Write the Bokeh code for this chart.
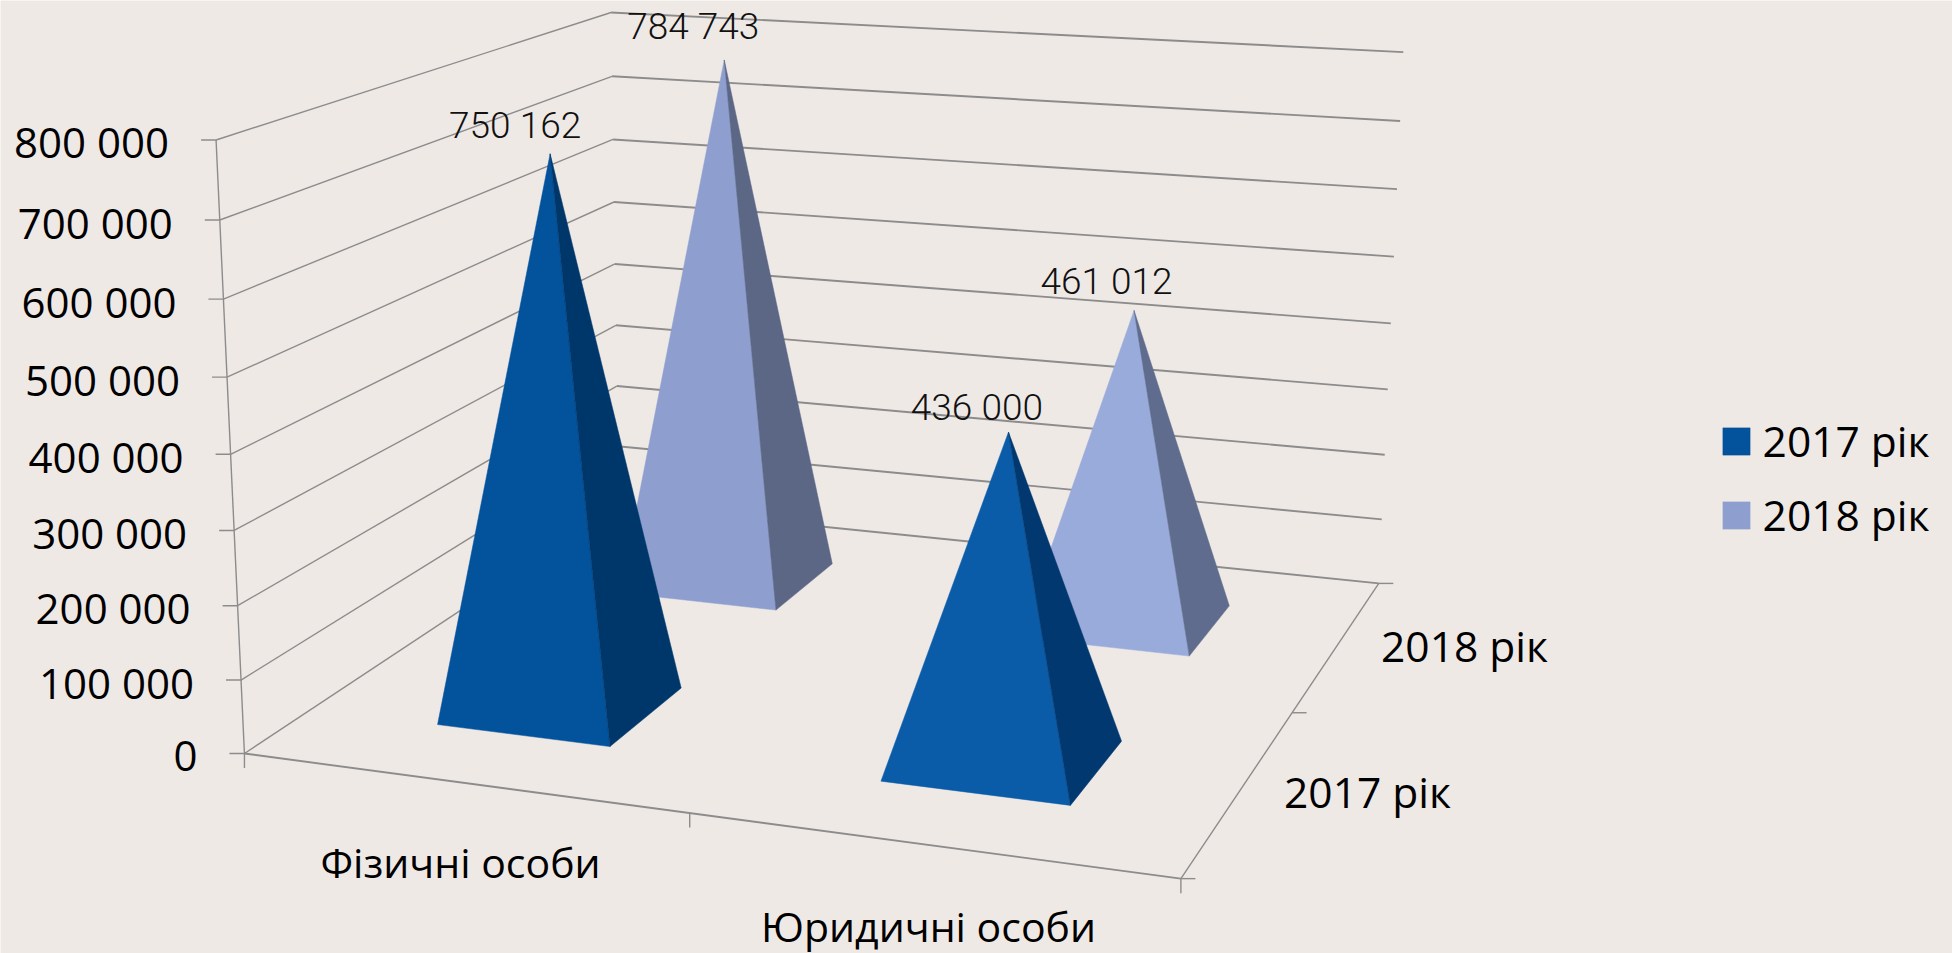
import numpy as np
from bokeh.plotting import figure
from bokeh.models import ColumnDataSource, Legend, LegendItem, Range1d
from bokeh.core.properties import value
from bokeh.embed import file_html
from bokeh.resources import INLINE

# ---- data -------------------------------------------------------------
categories = ["Фізичні особи", "Юридичні особи"]
series_names = ["2017 рік", "2018 рік"]
values_2017 = [750162, 436000]
values_2018 = [784743, 461012]
axis_ticks = [0, 100000, 200000, 300000, 400000, 500000, 600000, 700000, 800000]
axis_max = 800000

# ---- style ------------------------------------------------------------
BG = "#EFE9E6"
LINE = "#8C8C8C"
FRONT = [["#03529C", "#0A5CA8"], ["#8E9FCF", "#98ABDA"]]
SIDE = [["#00376B", "#00386F"], ["#5C6786", "#5F6C8D"]]
AXIS_FONT = "Open Sans"
LABEL_FONT = "Roboto Light, Roboto"
W, H = 1952, 953

# ---- 3D box -> page pixels: camera fitted on the box's corners ---------
CAMERA_ANCHORS = [
    ((0, 0, 0), (244, 753.3)), ((1, 0, 0), (1179.6, 878.3)), ((1, 1, 0), (1378, 583.3)),
    ((0, 1, 0), (618, 505)), ((0, 0, 1), (215.8, 139.3)), ((0, 1, 1), (609.6, 12)),
    ((1, 1, 1), (1403, 51.7)), ((.5, 0, 0), (688.9, 813.3)), ((1, .5, 0), (1292.5, 711)),
    ((0, 0, .625), (226.8, 376.3)), ((0, 1, .625), (614.2, 201.7)), ((1, 1, .625), (1393.4, 256.3)),
]
rows = []
for (X, Y, Z), (x, y) in CAMERA_ANCHORS:
    rows.append([X, Y, Z, 1, 0, 0, 0, 0, -x * X, -x * Y, -x * Z, -x])
    rows.append([0, 0, 0, 0, X, Y, Z, 1, -y * X, -y * Y, -y * Z, -y])
CAM = np.linalg.svd(np.array(rows, float))[2][-1].reshape(3, 4)


def proj(u, v, val):
    h = CAM @ np.array([u, v, val / axis_max, 1.0])
    return float(h[0] / h[2]), float(h[1] / h[2])


# ---- figure: data units are page pixels --------------------------------
p = figure(width=W, height=H, output_backend="svg", toolbar_location=None,
           x_range=Range1d(0, W), y_range=Range1d(H, 0), min_border=0,
           background_fill_color=BG, border_fill_color=BG, outline_line_color=None)
p.xaxis.visible = False
p.yaxis.visible = False
p.grid.visible = False

# walls and floor
thin_x, thin_y, thick_x, thick_y = [], [], [], []


def seg(a, b, thick=False):
    (thick_x if thick else thin_x).append([a[0], b[0]])
    (thick_y if thick else thin_y).append([a[1], b[1]])


for t in axis_ticks:
    a, b, c = proj(0, 0, t), proj(0, 1, t), proj(1, 1, t)
    seg(a, b)
    seg(b, c, True)
    seg((a[0] - 15, a[1]), a)
seg(proj(0, 0, 0), proj(0, 0, axis_max))
seg(proj(0, 0, 0), proj(1, 0, 0), True)
seg(proj(1, 0, 0), proj(1, 1, 0))
for u in (0, .5, 1):
    q = proj(u, 0, 0)
    seg(q, (q[0], q[1] + 14.5))
for v in (0, .5, 1):
    q = proj(1, v, 0)
    seg(q, (q[0] + 14.5, q[1]))
p.multi_line(thin_x, thin_y, line_color=LINE, line_width=1.4)
p.multi_line(thick_x, thick_y, line_color=LINE, line_width=1.9)

# pyramids, back row first
CENTERS_U = [.25, .75]
CENTERS_V = [.25, .75]
HALF = .1
all_values = [values_2017, values_2018]
legend_renderers = {}
for s in (1, 0):
    fx, fy, col = [], [], []
    for c in range(len(categories)):
        u, v, val = CENTERS_U[c], CENTERS_V[s], all_values[s][c]
        fl = proj(u - HALF, v - HALF, 0)
        fr = proj(u + HALF, v - HALF, 0)
        br = proj(u + HALF, v + HALF, 0)
        apex = proj(u, v, val)
        for tri, color in (((fl, fr, apex), FRONT[s][c]), ((fr, br, apex), SIDE[s][c])):
            fx.append([q[0] for q in tri])
            fy.append([q[1] for q in tri])
            col.append(color)
    legend_renderers[s] = p.patches("x", "y", fill_color="c", line_color="c", line_width=0.5,
                                    source=ColumnDataSource(dict(x=fx, y=fy, c=col)))


def fmt(n):
    return f"{n:,}".replace(",", " ")


# value-axis labels
tx, ty, tt = [], [], []
for t in axis_ticks:
    q = proj(0, 0, t)
    tx.append(q[0] - 47)
    ty.append(q[1] + 2)
    tt.append(fmt(t))
p.text(tx, ty, text=tt, text_font=value(AXIS_FONT), text_font_size="42px",
       text_align="right", text_baseline="middle", text_color="#000000")

# category and series labels
CAT_LABEL_POS = [(460, 861), (928, 925)]
SER_LABEL_POS = [(1367, 791), (1464, 645)]
p.text([q[0] for q in CAT_LABEL_POS], [q[1] for q in CAT_LABEL_POS], text=categories,
       text_font=value(AXIS_FONT), text_font_size="41px",
       text_align="center", text_baseline="middle", text_color="#000000")
p.text([q[0] for q in SER_LABEL_POS], [q[1] for q in SER_LABEL_POS], text=series_names,
       text_font=value(AXIS_FONT), text_font_size="42.5px",
       text_align="center", text_baseline="middle", text_color="#000000")

# data labels
LABEL_OFFSET = [[(-35, -28), (-31.6, -25)], [(-31, -33), (-27.5, -29)]]
dx, dy, dt = [], [], []
for s in range(2):
    for c in range(2):
        q = proj(CENTERS_U[c], CENTERS_V[s], all_values[s][c])
        dx.append(q[0] + LABEL_OFFSET[s][c][0])
        dy.append(q[1] + LABEL_OFFSET[s][c][1])
        dt.append(fmt(all_values[s][c]))
p.text(dx, dy, text=dt, text_font=value(LABEL_FONT), text_font_size="37px",
       text_align="center", text_baseline="middle", text_color="#111111")

# legend
legend = Legend(items=[LegendItem(label=series_names[s], renderers=[legend_renderers[s]], index=0) for s in range(2)],
                location=(1718.6, 410), orientation="vertical", background_fill_alpha=0, border_line_alpha=0,
                glyph_width=34, glyph_height=34, label_standoff=10, spacing=17, padding=0, margin=0,
                label_text_font=AXIS_FONT, label_text_font_size="42.5px", label_text_color="#000000")
p.add_layout(legend)

open("out.html", "w").write(file_html(p, INLINE))
